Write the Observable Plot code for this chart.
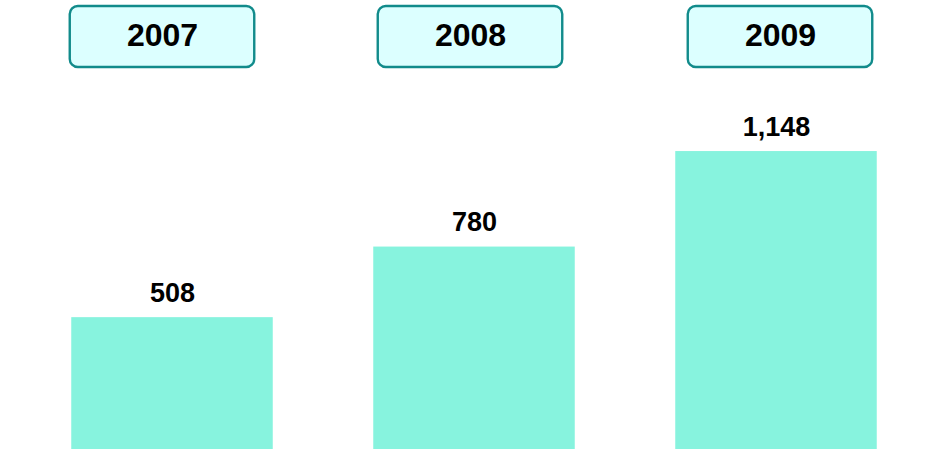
<!DOCTYPE html>
<html>
<head>
<meta charset="utf-8">
<script src="https://cdn.jsdelivr.net/npm/d3@7"></script>
<script src="https://cdn.jsdelivr.net/npm/@observablehq/plot@0.6"></script>
<style>
  html, body { margin: 0; padding: 0; background: #fff; }
  #chart svg { display: block; }
</style>
</head>
<body>
<div id="chart"></div>
<script>
const years = ["2007", "2008", "2009"];
const values = [508, 780, 1148];
const labels = ["508", "780", "1,148"];

const data = years.map((y, i) => ({year: y, value: values[i], label: labels[i]}));

const font = "'Liberation Sans', Arial, sans-serif";
const boxOffsets = {"2007": -10, "2008": -4, "2009": 4};

const boxMarks = years.flatMap(y => [
  Plot.cell(data.filter(d => d.year === y), {
    x: "year", fill: "#dcffff", stroke: "#118b8b", strokeWidth: 2.4,
    rx: 8, insetTop: 6, insetBottom: 382, insetLeft: 58.75, insetRight: 58.75,
    dx: boxOffsets[y]
  }),
  Plot.text(data.filter(d => d.year === y), {
    x: "year", text: "year", frameAnchor: "top", lineAnchor: "middle", dy: 35,
    fontSize: 32, fontWeight: "bold", fill: "#000", dx: boxOffsets[y]
  })
]);

const chart = Plot.plot({
  width: 928,
  height: 449,
  marginTop: 0, marginBottom: 0, marginLeft: 20, marginRight: 1,
  style: {fontFamily: font, background: "#fff"},
  x: {type: "band", domain: years, padding: 0, axis: null},
  y: {domain: [0, 1730], axis: null},
  marks: [
    Plot.barY(data, {x: "year", y: "value", fill: "#87f3de", insetLeft: 50.25, insetRight: 50.25}),
    Plot.text(data, {x: "year", y: "value", text: "label", lineAnchor: "bottom", dy: -16,
      fontSize: 27, fontWeight: "bold", fill: "#000"}),
    ...boxMarks
  ]
});
document.getElementById("chart").appendChild(chart);
</script>
</body>
</html>
